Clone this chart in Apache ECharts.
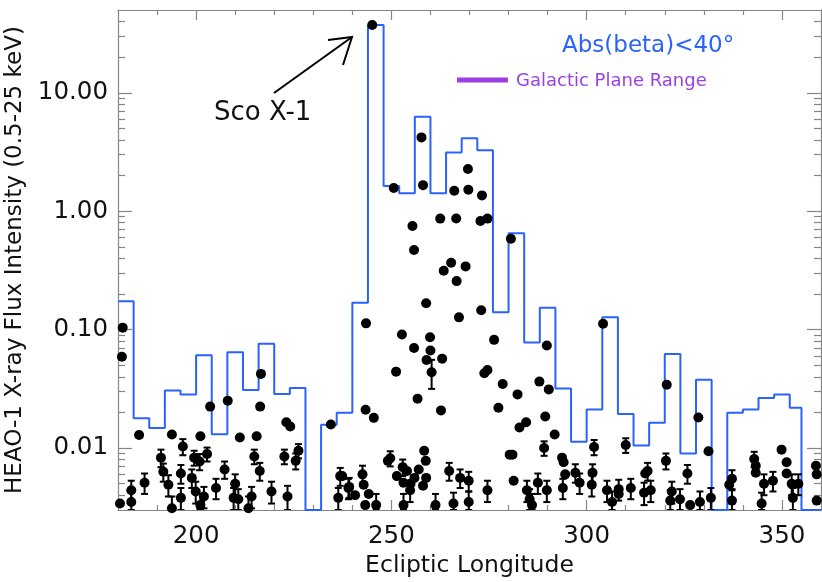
<!DOCTYPE html>
<html>
<head>
<meta charset="utf-8">
<script src="https://cdn.jsdelivr.net/npm/echarts@6/dist/echarts.min.js"></script>
<style>
html, body, #main { margin: 0; padding: 0; width: 822px; height: 582px; overflow: hidden; background: #fff; }
</style>
</head>
<body>
<div id="main"></div>
<script>
// measured sources: ecliptic longitude, flux, 1-sigma error (0 = bar hidden behind dot)
const lon = [
  181.2, 181.0, 185.4, 193.8, 196.6, 191.0, 191.6, 186.8, 183.4, 183.4, 180.5, 192.9, 193.8, 196.1, 196.1,
  198.9, 199.5, 200.9, 202.8, 199.9, 202.0, 201.1, 201.1, 203.6, 208.1, 211.2, 207.3, 205.1, 210.0, 209.6,
  210.8, 214.2, 213.4, 214.9, 216.3, 215.5, 216.4, 216.6, 219.3, 223.4, 223.1, 224.1, 222.6, 226.2, 225.5,
  234.5, 236.9, 239.0, 236.4, 240.7,
  245.1, 257.7, 250.6, 258.1, 269.6, 266.1, 269.7, 273.2, 262.5, 266.6, 272.8, 274.6, 255.4, 255.8, 280.6,
  265.3, 269.0, 263.4, 266.7, 258.9, 243.5, 267.3, 273.0, 252.7, 259.9, 276.3, 255.8, 260.0, 289.8,
  259.0, 263.0, 260.3, 251.2, 256.7, 262.7, 243.4, 245.5, 273.8, 274.6, 278.5, 282.3, 277.4, 287.9, 290.3,
  289.4, 284.5, 282.8, 291.8, 289.1, 301.9, 281.0, 280.3, 258.4, 258.8, 249.7, 249.1, 252.9, 254.0, 251.4,
  255.9, 257.0, 258.9, 254.9, 258.1, 253.1, 254.8, 253.1, 242.6, 239.2, 237.4, 242.9, 244.2, 246.1, 243.3,
  264.8, 267.6, 269.8, 269.8, 265.9, 261.3, 274.6, 281.3, 284.7, 285.4, 287.5, 289.8, 286.0, 293.7, 294.1,
  294.5, 293.9, 297.1, 298.2, 301.5, 301.3,
  304.2, 320.5, 328.6, 331.2, 310.0, 320.3, 315.6, 315.0, 325.8, 305.2, 308.2, 308.2, 311.3, 306.5, 314.7,
  316.4, 321.8, 321.4, 323.9, 326.5, 329.0, 331.8, 337.2, 336.5, 337.2, 342.9, 343.3, 343.3, 345.4, 344.8,
  347.7, 349.9, 351.2, 351.2, 352.5, 354.2, 352.8, 358.7, 358.9, 358.9
];
const flux = [
  0.104, 0.059, 0.0129, 0.0130, 0.0103, 0.0083, 0.0063, 0.0051, 0.0044, 0.0035, 0.0034, 0.0049, 0.0031, 0.0061, 0.0038,
  0.0056, 0.0083, 0.0077, 0.0089, 0.0043, 0.0039, 0.0033, 0.0126, 0.0224, 0.0251, 0.0123, 0.0066, 0.0046, 0.0050, 0.0038,
  0.0037, 0.0039, 0.0031, 0.0085, 0.0064, 0.0126, 0.0224, 0.0423, 0.0043, 0.0039, 0.0165, 0.0152, 0.0085, 0.0095, 0.0078,
  0.0158, 0.0058, 0.0046, 0.0038, 0.0040,
  37.4, 4.2, 1.57, 1.66, 2.27, 1.49, 1.52, 1.36, 0.866, 0.867, 0.826, 0.866, 0.75, 0.47, 0.586,
  0.367, 0.342, 0.314, 0.257, 0.167, 0.113, 0.127, 0.146, 0.091, 0.0862, 0.082, 0.070, 0.0666, 0.0734,
  0.0555, 0.0569, 0.0436, 0.0442, 0.0261, 0.0208, 0.0211, 0.0180, 0.0428, 0.0457, 0.0348, 0.0284, 0.0219, 0.0364, 0.0313,
  0.0185, 0.0165, 0.0149, 0.0130, 0.0100, 0.0102, 0.0088, 0.0088, 0.0095, 0.0078, 0.0082, 0.0078, 0.0069, 0.0064, 0.0058,
  0.0056, 0.0066, 0.0056, 0.0050, 0.0048, 0.0051, 0.0044, 0.0033, 0.0060, 0.0047, 0.0058, 0.0049, 0.0041, 0.0033, 0.0033,
  0.0064, 0.0056, 0.0053, 0.0035, 0.0034, 0.0033, 0.0044, 0.0053, 0.0044, 0.0037, 0.0051, 0.0044, 0.0033, 0.0083, 0.0076,
  0.0060, 0.0046, 0.0062, 0.0051, 0.0062, 0.0049,
  0.112, 0.0343, 0.0181, 0.0094, 0.0106, 0.0078, 0.0064, 0.0061, 0.0061, 0.0044, 0.0045, 0.0041, 0.0046, 0.0035, 0.0042,
  0.0044, 0.0043, 0.0036, 0.0037, 0.0033, 0.0035, 0.0038, 0.0055, 0.0049, 0.0036, 0.0081, 0.0071, 0.0062, 0.0050, 0.0034,
  0.0053, 0.0097, 0.0076, 0.0061, 0.0050, 0.0050, 0.0038, 0.0071, 0.0060, 0.0036
];
const fluxErr = [
  0, 0, 0, 0, 0.0016, 0.0014, 0.0011, 0.0010, 0.0009, 0.0008, 0, 0.0010, 0.0008, 0.0011, 0.0008,
  0.0010, 0.0012, 0.0012, 0.0012, 0.0009, 0.0008, 0.0008, 0, 0, 0, 0, 0.0011, 0.0009, 0.0010, 0.0008,
  0.0008, 0.0008, 0.0008, 0.0012, 0.0011, 0, 0, 0, 0.0009, 0.0009, 0, 0, 0.0012, 0.0013, 0.0012,
  0, 0.0010, 0.0009, 0.0008, 0,
  0, 0, 0, 0, 0, 0, 0, 0, 0, 0, 0, 0, 0, 0, 0,
  0, 0, 0, 0, 0, 0, 0, 0, 0, 0, 0, 0, 0, 0,
  0, 0, 0.012, 0, 0, 0, 0, 0, 0, 0, 0, 0, 0, 0, 0,
  0, 0, 0, 0, 0.0014, 0.0015, 0, 0, 0, 0, 0.0012, 0, 0.0011, 0, 0,
  0, 0, 0, 0, 0, 0, 0.0009, 0.0008, 0.0011, 0.0009, 0, 0, 0, 0.0008, 0,
  0.0011, 0.0010, 0.0010, 0.0008, 0.0008, 0.0008, 0.0009, 0, 0.0009, 0.0008, 0.0010, 0.0009, 0.0008, 0, 0,
  0, 0.0009, 0.0011, 0.0010, 0.0011, 0.0010,
  0, 0, 0, 0, 0.0015, 0.0012, 0.0011, 0, 0.0011, 0.0009, 0.0009, 0, 0.0009, 0.0008, 0.0009,
  0.0009, 0.0009, 0.0008, 0.0008, 0, 0.0008, 0.0008, 0.0010, 0, 0.0008, 0.0012, 0, 0, 0.0010, 0.0008,
  0.0010, 0, 0, 0, 0.0010, 0.0010, 0.0008, 0, 0, 0
];

// Abs(beta)<40 histogram: left edge of each bin and its flux
const binStart = [
  180, 184, 188, 192, 196, 200, 204, 208, 212, 216, 220, 224, 228, 232, 236, 240, 244, 248, 252, 256, 260, 264,
  268, 272, 276, 280, 284, 288, 292, 296, 300, 304, 308, 312, 316, 320, 324, 328, 332, 336, 340, 344, 348, 352, 355, 360
];
const binFlux = [
  0.174, 0.0179, 0.0148, 0.0307, 0.0284, 0.0607, 0.0131, 0.0644, 0.031, 0.0759, 0.0286, 0.0322, 0.003, 0.0157, 0.0199,
  0.169, 37.4, 1.63, 1.42, 6.27, 1.42, 3.13, 4.14, 3.27, 0.14, 0.65, 0.078, 0.153, 0.0319, 0.0113, 0.0212, 0.127,
  0.0194, 0.0105, 0.0164, 0.0624, 0.0090, 0.0378, 0.003, 0.0199, 0.0212, 0.0265, 0.0284, 0.0219, 0.003, 0.003
];

const xMajor = [200, 250, 300, 350];
const xMinor = [190, 210, 220, 230, 240, 260, 270, 280, 290, 310, 320, 330, 340];
const yMajor = [0.01, 0.1, 1, 10];
const yMinor = [0.004, 0.005, 0.006, 0.007, 0.008, 0.009, 0.02, 0.03, 0.04, 0.05, 0.06, 0.07, 0.08, 0.09,
  0.2, 0.3, 0.4, 0.5, 0.6, 0.7, 0.8, 0.9, 2, 3, 4, 5, 6, 7, 8, 9, 20, 30, 40];

const FONT = "DejaVu Sans";
const GREY = "#858585";
const BLUE = "#2a62ff";
const PURPLE = "#9b40e2";

let myChart = echarts.init(document.getElementById("main"));

function xAx(position, ticks, len, main) {
  return {
    type: "value", position: position, min: 180, max: 360,
    axisLine: { show: main, onZero: false, lineStyle: { color: GREY, width: 1.2 } },
    axisTick: { show: true, inside: true, length: len, customValues: ticks, lineStyle: { color: GREY, width: 1.2 } },
    axisLabel: {
      show: main && position === "bottom", customValues: xMajor, margin: 14,
      color: "#111", fontFamily: FONT, fontSize: 24.5
    },
    splitLine: { show: false },
    name: main && position === "bottom" ? "Ecliptic Longitude" : "",
    nameLocation: "middle", nameGap: 44,
    nameTextStyle: { color: "#111", fontFamily: FONT, fontSize: 23.5 }
  };
}

function yAx(position, ticks, len, main) {
  return {
    type: "log", logBase: 10, position: position, min: 0.003, max: 50,
    axisLine: { show: main, onZero: false, lineStyle: { color: GREY, width: 1.2 } },
    axisTick: { show: true, inside: true, length: len, customValues: ticks, lineStyle: { color: GREY, width: 1.2 } },
    axisLabel: {
      show: main && position === "left", customValues: yMajor, margin: 10,
      color: "#111", fontFamily: FONT, fontSize: 24.5,
      formatter: function (v) { return Number(v).toFixed(2); }
    },
    splitLine: { show: false },
    name: main && position === "left" ? "HEAO-1 X-ray Flux Intensity (0.5-25 keV)" : "",
    nameLocation: "middle", nameGap: 90,
    nameTextStyle: { color: "#111", fontFamily: FONT, fontSize: 23 }
  };
}

const histData = binStart.map(function (x, i) { return [x, binFlux[i]]; });
const dotData = lon.map(function (x, i) { return [x, flux[i]]; });
const errData = [];
lon.forEach(function (x, i) {
  if (fluxErr[i] > 0) errData.push([x, flux[i] - fluxErr[i], flux[i] + fluxErr[i]]);
});

myChart.setOption({
  backgroundColor: "#fff",
  animation: false,
  grid: { left: 118, right: 1, top: 10, bottom: 72, outerBoundsMode: "none", containLabel: false },
  xAxis: [
    xAx("bottom", xMajor, 10, true),
    xAx("bottom", xMinor, 5, false),
    xAx("top", xMajor, 10, true),
    xAx("top", xMinor, 5, false)
  ],
  yAxis: [
    yAx("left", yMajor, 14, true),
    yAx("left", yMinor, 7, false),
    yAx("right", yMajor, 14, true),
    yAx("right", yMinor, 7, false)
  ],
  series: [
    {
      name: "Abs(beta)<40",
      type: "line",
      step: "end",
      data: histData,
      symbol: "none",
      clip: true,
      lineStyle: { color: BLUE, width: 2 },
      z: 2
    },
    {
      type: "custom",
      data: errData,
      clip: true,
      z: 3,
      renderItem: function (params, api) {
        const x = api.value(0);
        const lo = Math.max(api.value(1), 0.003);
        const hi = api.value(2);
        const p0 = api.coord([x, hi]);
        const p1 = api.coord([x, lo]);
        const w = 3.5;
        const st = { stroke: "#000", lineWidth: 2 };
        return {
          type: "group",
          children: [
            { type: "line", shape: { x1: p0[0], y1: p0[1], x2: p1[0], y2: p1[1] }, style: st },
            { type: "line", shape: { x1: p0[0] - w, y1: p0[1], x2: p0[0] + w, y2: p0[1] }, style: st },
            { type: "line", shape: { x1: p1[0] - w, y1: p1[1], x2: p1[0] + w, y2: p1[1] }, style: st }
          ]
        };
      }
    },
    {
      type: "scatter",
      data: dotData,
      symbol: "circle",
      symbolSize: 10,
      clip: true,
      itemStyle: { color: "#000", opacity: 1 },
      z: 4
    }
  ],
  graphic: [
    {
      type: "text", left: 214, top: 100,
      style: { text: "Sco X-1", fill: "#111", font: "26px " + FONT }
    },
    {
      type: "polyline",
      shape: { points: [[274, 93], [352, 37]] },
      style: { stroke: "#000", lineWidth: 2, fill: null }
    },
    {
      type: "polyline",
      shape: { points: [[328, 40], [352, 37], [343, 65]] },
      style: { stroke: "#000", lineWidth: 2, fill: null }
    },
    {
      type: "text", left: 562, top: 35,
      style: { text: "Abs(beta)<40°", fill: BLUE, font: "23px " + FONT }
    },
    {
      type: "line",
      shape: { x1: 457, y1: 80, x2: 508, y2: 80 },
      style: { stroke: PURPLE, lineWidth: 5 }
    },
    {
      type: "text", left: 516, top: 72,
      style: { text: "Galactic Plane Range", fill: PURPLE, font: "18px " + FONT }
    }
  ]
});

window.onresize = myChart.resize;
</script>
</body>
</html>
